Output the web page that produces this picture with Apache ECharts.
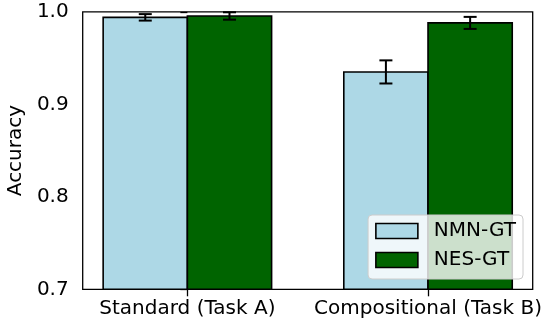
<!DOCTYPE html>
<html>
<head>
<meta charset="utf-8">
<script src="https://cdn.jsdelivr.net/npm/echarts@6/dist/echarts.min.js"></script>
<style>
  html, body { margin: 0; padding: 0; background: #fff; }
  #chart { width: 546px; height: 327px; }
</style>
</head>
<body>
<div id="chart"></div>
<script>
// Accuracy per task, two models, with error bar half-widths
const categories = ['Standard (Task A)', 'Compositional (Task B)'];
const seriesNames = ['NMN-GT', 'NES-GT'];
const nmnAcc = [0.994, 0.935];
const nmnErr = [0.0035, 0.0125];
const nesAcc = [0.9955, 0.988];
const nesErr = [0.004, 0.0065];
const yTicks = [0.7, 0.8, 0.9, 1.0];

const BAR_W = 0.35;
const Y_MIN = 0.7;
const FONT = "'DejaVu Sans', sans-serif";
const FS = 20;
const colors = ['#add8e6', '#006400'];

function barItems(acc, err) {
  return acc.map((v, i) => [i, v, err[i]]);
}

function makeBarRender(offset) {
  return function (params, api) {
    const x = api.value(0) + offset;
    const tl = api.coord([x - BAR_W / 2, api.value(1)]);
    const br = api.coord([x + BAR_W / 2, Y_MIN]);
    return {
      type: 'rect',
      shape: { x: tl[0], y: tl[1], width: br[0] - tl[0], height: br[1] - tl[1] },
      style: { fill: api.visual('color'), stroke: '#000', lineWidth: 1.6 }
    };
  };
}

function makeErrRender(offset) {
  return function (params, api) {
    const x = api.value(0) + offset;
    const v = api.value(1), e = api.value(2);
    const hi = api.coord([x, v + e]);
    const lo = api.coord([x, v - e]);
    const cap = 6.5;
    const st = { stroke: '#000', lineWidth: 2 };
    return {
      type: 'group',
      children: [
        { type: 'line', shape: { x1: hi[0], y1: hi[1], x2: lo[0], y2: lo[1] }, style: st },
        { type: 'line', shape: { x1: hi[0] - cap, y1: hi[1], x2: hi[0] + cap, y2: hi[1] }, style: st },
        { type: 'line', shape: { x1: lo[0] - cap, y1: lo[1], x2: lo[0] + cap, y2: lo[1] }, style: st }
      ]
    };
  };
}

const chart = echarts.init(document.getElementById('chart'), null, { renderer: 'canvas' });

chart.setOption({
  animation: false,
  backgroundColor: '#fff',
  textStyle: { fontFamily: FONT },
  grid: {
    left: 82.7, right: 13.3, top: 11.8, bottom: 37.7,
    containLabel: false,
    outerBoundsMode: 'none',
    show: true, borderColor: '#000', borderWidth: 1.3, backgroundColor: 'transparent'
  },
  legend: {
    orient: 'vertical',
    right: 23, bottom: 48,
    itemWidth: 42, itemHeight: 15, itemGap: 9,
    padding: [6, 7, 9, 7],
    backgroundColor: 'rgba(255,255,255,0.8)',
    borderColor: '#cccccc', borderWidth: 1, borderRadius: 4,
    textStyle: { fontFamily: FONT, fontSize: FS, color: '#000', padding: [0, 0, 0, 11] },
    data: seriesNames.map((n, i) => ({
      name: n, icon: 'rect',
      itemStyle: { color: colors[i], borderColor: '#000', borderWidth: 1.6 }
    }))
  },
  xAxis: {
    type: 'value',
    min: -0.435, max: 1.435,
    splitLine: { show: false },
    axisLine: { show: false },
    axisTick: { show: true, customValues: [0, 1], length: 7, lineStyle: { color: '#000', width: 1.3 } },
    axisLabel: {
      customValues: [0, 1],
      formatter: v => categories[Math.round(v)],
      fontFamily: FONT, fontSize: FS, color: '#000', margin: 9
    }
  },
  yAxis: {
    type: 'value',
    min: 0.7, max: 1.0, interval: 0.1,
    name: 'Accuracy',
    nameLocation: 'middle',
    nameGap: 51,
    nameTextStyle: { fontFamily: FONT, fontSize: FS, color: '#000' },
    splitLine: { show: false },
    axisLine: { show: false },
    axisTick: { show: true, length: 7, lineStyle: { color: '#000', width: 1.3 } },
    axisLabel: {
      formatter: v => {
        const t = yTicks.find(k => Math.abs(k - v) < 1e-9);
        return t === undefined ? '' : t.toFixed(1);
      },
      fontFamily: FONT, fontSize: FS, color: '#000', margin: 14
    }
  },
  series: [
    {
      name: seriesNames[0], type: 'custom', z: 2,
      itemStyle: { color: colors[0] },
      encode: { x: 0, y: 1 },
      data: barItems(nmnAcc, nmnErr),
      renderItem: makeBarRender(-BAR_W / 2)
    },
    {
      name: seriesNames[1], type: 'custom', z: 2,
      itemStyle: { color: colors[1] },
      encode: { x: 0, y: 1 },
      data: barItems(nesAcc, nesErr),
      renderItem: makeBarRender(BAR_W / 2)
    },
    {
      name: seriesNames[0] + ' err', type: 'custom', z: 3,
      encode: { x: 0, y: 1 },
      data: barItems(nmnAcc, nmnErr),
      renderItem: makeErrRender(-BAR_W / 2)
    },
    {
      name: seriesNames[1] + ' err', type: 'custom', z: 3,
      encode: { x: 0, y: 1 },
      data: barItems(nesAcc, nesErr),
      renderItem: makeErrRender(BAR_W / 2)
    }
  ]
});
</script>
</body>
</html>
